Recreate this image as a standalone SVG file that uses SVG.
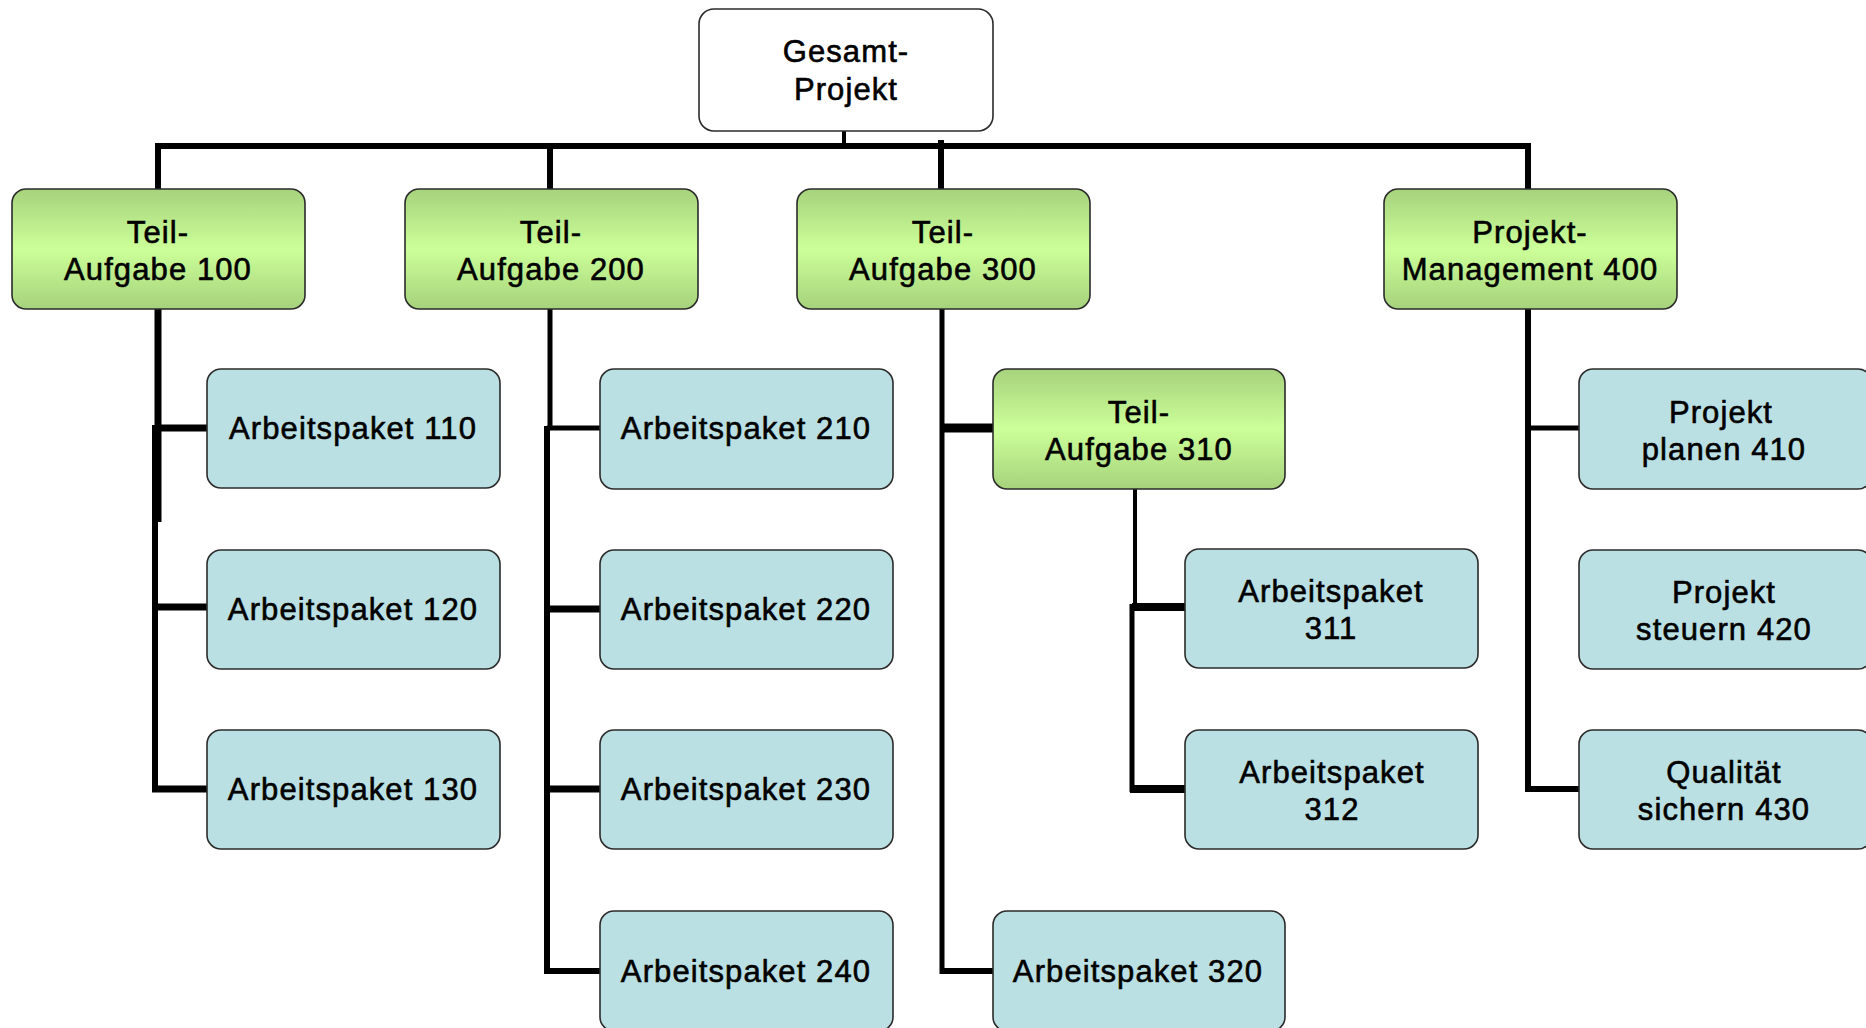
<svg xmlns="http://www.w3.org/2000/svg" width="1866" height="1028" viewBox="0 0 1866 1028">
<defs>
<linearGradient id="green" x1="0" y1="0" x2="0" y2="1">
<stop offset="0" stop-color="#A6D27C"/>
<stop offset="0.5" stop-color="#CCFF99"/>
<stop offset="1" stop-color="#A6D27C"/>
</linearGradient>
</defs>
<style>
.box{stroke:#2b2b2b;stroke-width:1.6}
.white{fill:#ffffff}
.grn{fill:url(#green)}
.blue{fill:#BBE0E3}
.t{font-family:"Liberation Sans",Arial,sans-serif;font-size:31px;letter-spacing:1.1px;text-anchor:middle;fill:#000;stroke:#000;stroke-width:0.6px}
.c{stroke:#000;fill:none;stroke-linecap:butt}
</style>
<rect width="1866" height="1028" fill="#ffffff"/>

<g id="connectors">
<line class="c" x1="844" y1="131" x2="844" y2="146" stroke-width="4"/>
<line class="c" x1="155" y1="146" x2="1531" y2="146" stroke-width="6"/>
<line class="c" x1="158" y1="143" x2="158" y2="189" stroke-width="6"/>
<line class="c" x1="550" y1="143" x2="550" y2="189" stroke-width="6"/>
<line class="c" x1="941" y1="140" x2="941" y2="189" stroke-width="6"/>
<line class="c" x1="1528" y1="143" x2="1528" y2="189" stroke-width="6"/>
<line class="c" x1="158" y1="309" x2="158" y2="522" stroke-width="7"/>
<line class="c" x1="155" y1="425" x2="155" y2="792" stroke-width="6"/>
<line class="c" x1="155" y1="428" x2="207" y2="428" stroke-width="7"/>
<line class="c" x1="155" y1="607" x2="207" y2="607" stroke-width="7"/>
<line class="c" x1="152" y1="789" x2="207" y2="789" stroke-width="7"/>
<line class="c" x1="550" y1="309" x2="550" y2="430" stroke-width="5"/>
<line class="c" x1="547" y1="426" x2="547" y2="974" stroke-width="6"/>
<line class="c" x1="547" y1="428" x2="600" y2="428" stroke-width="5"/>
<line class="c" x1="547" y1="609" x2="600" y2="609" stroke-width="7"/>
<line class="c" x1="547" y1="789" x2="600" y2="789" stroke-width="7"/>
<line class="c" x1="544" y1="971" x2="600" y2="971" stroke-width="6"/>
<line class="c" x1="942" y1="309" x2="942" y2="974" stroke-width="5"/>
<line class="c" x1="942" y1="428" x2="993" y2="428" stroke-width="9"/>
<line class="c" x1="940" y1="971" x2="993" y2="971" stroke-width="6"/>
<line class="c" x1="1135" y1="489" x2="1135" y2="608" stroke-width="4"/>
<line class="c" x1="1132" y1="604" x2="1132" y2="792" stroke-width="5"/>
<line class="c" x1="1132" y1="607" x2="1185" y2="607" stroke-width="8"/>
<line class="c" x1="1130" y1="789" x2="1185" y2="789" stroke-width="8"/>
<line class="c" x1="1528" y1="309" x2="1528" y2="792" stroke-width="6"/>
<line class="c" x1="1528" y1="428" x2="1579" y2="428" stroke-width="5"/>
<line class="c" x1="1525" y1="789" x2="1579" y2="789" stroke-width="6"/>
</g>

<g id="gesamt">
<rect class="box white" x="699" y="9" width="294" height="122" rx="15"/>
<text class="t" x="846" y="62">Gesamt-</text>
<text class="t" x="846" y="100">Projekt</text>
</g>

<g id="ta100">
<rect class="box grn" x="12" y="189" width="293" height="120" rx="14"/>
<text class="t" x="158" y="243">Teil-</text>
<text class="t" x="158" y="280">Aufgabe 100</text>
</g>
<g id="ta200">
<rect class="box grn" x="405" y="189" width="293" height="120" rx="14"/>
<text class="t" x="551" y="243">Teil-</text>
<text class="t" x="551" y="280">Aufgabe 200</text>
</g>
<g id="ta300">
<rect class="box grn" x="797" y="189" width="293" height="120" rx="14"/>
<text class="t" x="943" y="243">Teil-</text>
<text class="t" x="943" y="280">Aufgabe 300</text>
</g>
<g id="pm400">
<rect class="box grn" x="1384" y="189" width="293" height="120" rx="14"/>
<text class="t" x="1530" y="243">Projekt-</text>
<text class="t" x="1530" y="280">Management 400</text>
</g>

<g id="ap110">
<rect class="box blue" x="207" y="369" width="293" height="119" rx="14"/>
<text class="t" x="353" y="439">Arbeitspaket 110</text>
</g>
<g id="ap120">
<rect class="box blue" x="207" y="550" width="293" height="119" rx="14"/>
<text class="t" x="353" y="620">Arbeitspaket 120</text>
</g>
<g id="ap130">
<rect class="box blue" x="207" y="730" width="293" height="119" rx="14"/>
<text class="t" x="353" y="800">Arbeitspaket 130</text>
</g>

<g id="ap210">
<rect class="box blue" x="600" y="369" width="293" height="120" rx="14"/>
<text class="t" x="746" y="439">Arbeitspaket 210</text>
</g>
<g id="ap220">
<rect class="box blue" x="600" y="550" width="293" height="119" rx="14"/>
<text class="t" x="746" y="620">Arbeitspaket 220</text>
</g>
<g id="ap230">
<rect class="box blue" x="600" y="730" width="293" height="119" rx="14"/>
<text class="t" x="746" y="800">Arbeitspaket 230</text>
</g>
<g id="ap240">
<rect class="box blue" x="600" y="911" width="293" height="120" rx="14"/>
<text class="t" x="746" y="982">Arbeitspaket 240</text>
</g>

<g id="ta310">
<rect class="box grn" x="993" y="369" width="292" height="120" rx="14"/>
<text class="t" x="1139" y="423">Teil-</text>
<text class="t" x="1139" y="460">Aufgabe 310</text>
</g>
<g id="ap311">
<rect class="box blue" x="1185" y="549" width="293" height="119" rx="14"/>
<text class="t" x="1331" y="602">Arbeitspaket</text>
<text class="t" x="1331" y="639">311</text>
</g>
<g id="ap312">
<rect class="box blue" x="1185" y="730" width="293" height="119" rx="14"/>
<text class="t" x="1332" y="783">Arbeitspaket</text>
<text class="t" x="1332" y="820">312</text>
</g>
<g id="ap320">
<rect class="box blue" x="993" y="911" width="292" height="120" rx="14"/>
<text class="t" x="1138" y="982">Arbeitspaket 320</text>
</g>

<g id="pp410">
<rect class="box blue" x="1579" y="369" width="293" height="120" rx="14"/>
<text class="t" x="1721" y="423">Projekt</text>
<text class="t" x="1724" y="460">planen 410</text>
</g>
<g id="ps420">
<rect class="box blue" x="1579" y="550" width="293" height="119" rx="14"/>
<text class="t" x="1724" y="603">Projekt</text>
<text class="t" x="1724" y="640">steuern 420</text>
</g>
<g id="qs430">
<rect class="box blue" x="1579" y="730" width="293" height="119" rx="14"/>
<text class="t" x="1724" y="783">Qualität</text>
<text class="t" x="1724" y="820">sichern 430</text>
</g>
</svg>
